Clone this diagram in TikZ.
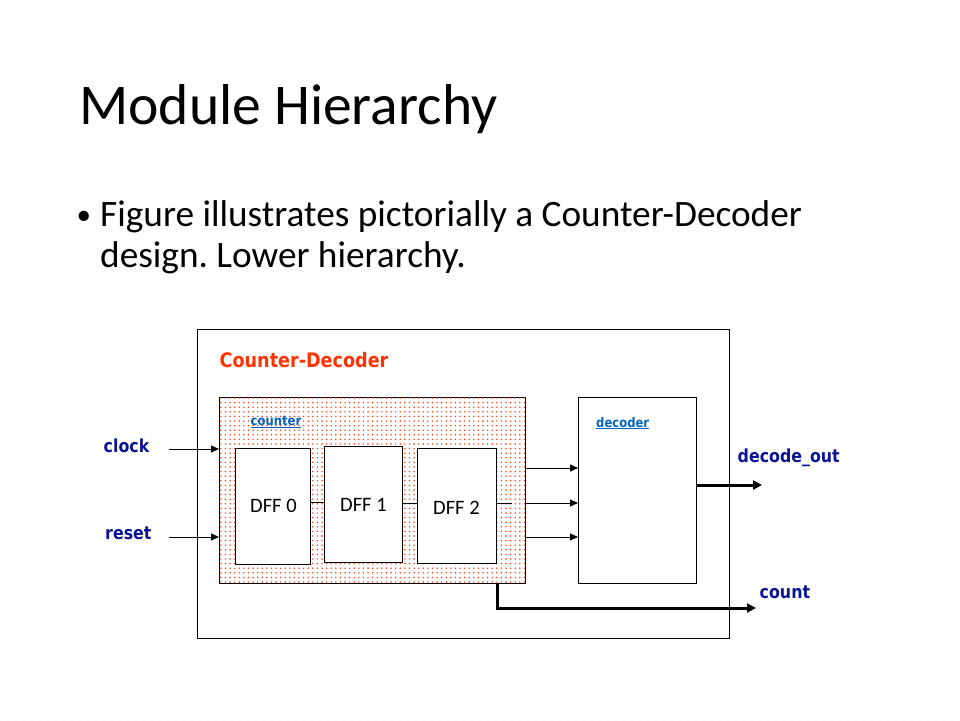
\documentclass[tikz,border=0pt]{standalone}
\usepackage{fontspec}
\setmainfont{Carlito}
\newfontfamily\tahomafont{DejaVu Sans}[FakeStretch=0.88]
\usetikzlibrary{arrows.meta,patterns.meta}
\frenchspacing
\definecolor{navy}{RGB}{12,20,150}
\definecolor{hot}{RGB}{255,51,0}
\definecolor{link}{RGB}{5,99,193}
\definecolor{paper}{RGB}{255,255,253}
\definecolor{speck}{RGB}{222,238,212}

\begin{document}
\begin{tikzpicture}[x=1pt,y=-1pt,
  box/.style={draw=black,line width=1.3pt,fill=white,inner sep=0pt,anchor=north west},
  hatched/.style={box,postaction={pattern={Dots[radius=0.8pt,distance=4.6pt]},pattern color=hot}},
  wire/.style={draw=black,line width=1pt},
  sig/.style={wire,-{Triangle[length=8pt,width=7pt]}},
  bus/.style={draw=black,line width=3pt,-{Triangle[length=9pt,width=9pt]}},
  port/.style={anchor=base west,inner sep=0pt,text=navy,
    font=\tahomafont\bfseries\fontsize{18}{20}\selectfont},
  inst/.style={anchor=base west,inner sep=0pt,text=link,
    font=\tahomafont\bfseries\fontsize{13.2}{15}\selectfont},
  cell/.style={anchor=base west,inner sep=0pt,font=\fontsize{20.5}{24}\selectfont},
  body/.style={anchor=base west,inner sep=0pt,font=\fontsize{37.3}{44}\selectfont}]

% slide background
\fill[paper] (0,0) rectangle (960,720);
\fill[pattern={Dots[radius=0.7pt,distance=8pt]},pattern color=speck] (0,0) rectangle (960,720);
\useasboundingbox (0,0) rectangle (960,720);

% heading and bullet
\node[anchor=base west,inner sep=0pt,font=\fontsize{57.6}{70}\selectfont] (title) at (79,124) {Module Hierarchy};
\node[anchor=base west,inner sep=0pt,font=\fontsize{29}{32}\selectfont] (dot) at (76.5,224) {•};
\node[body] (line1) at (100,226) {Figure illustrates pictorially a Counter-Decoder};
\node[body] (line2) at (100,267) {design. Lower hierarchy.};

% blocks
\node[box,minimum width=532,minimum height=309] (top) at (197,329) {};
\node[hatched,minimum width=306,minimum height=186] (ctr) at (219,397) {};
\node[box,minimum width=118,minimum height=186] (dec) at (578,397) {};
\node[box,minimum width=75,minimum height=116] (dff0) at (235,448) {};
\node[box,minimum width=78,minimum height=116] (dff1) at (324,446) {};
\node[box,minimum width=79,minimum height=115] (dff2) at (417,448) {};

% block labels
\node[anchor=base west,inner sep=0pt,text=hot,font=\tahomafont\bfseries\fontsize{20}{23}\selectfont] (tname) at (219.5,367) {Counter-Decoder};
\node[inst] (cname) at (250.5,425.5) {\underline{counter}};
\node[inst] (dname) at (596,427) {\underline{decoder}};
\node[cell] (l0) at (250,512) {DFF 0};
\node[cell] (l1) at (340,511.5) {DFF 1};
\node[cell] (l2) at (433,514) {DFF 2};

% ports
\node[port] (pclk) at (103.5,452.5) {clock};
\node[port] (prst) at (105,539) {reset};
\node[port] (pdout) at (737.5,462.5) {decode\_out};
\node[port] (pcnt) at (759.5,598) {count};

% inputs into the counter
\coordinate (clkin) at (169,449);
\coordinate (rstin) at (169,537);
\draw[sig] (clkin) -- (clkin -| ctr.west);
\draw[sig] (rstin) -- (rstin -| ctr.west);

% flip-flop chain
\coordinate (q0) at (0,502);
\coordinate (q1) at (0,503);
\coordinate (q2) at (512,503);
\draw[wire] (dff0.east |- q0) -- (dff1.west |- q0);
\draw[wire] (dff1.east |- q1) -- (dff2.west |- q1);
\draw[wire] (dff2.east |- q2) -- (q2);

% counter bits into the decoder
\foreach \yy/\nm in {468/ba,503/bb,537/bc}{
  \coordinate (\nm) at (0,\yy);
  \draw[sig] (ctr.east |- \nm) -- (dec.west |- \nm);
}

% outputs
\coordinate (dout) at (762,485);
\draw[bus] (dec.east |- dout) -- (dout);
\coordinate (tap) at (497,0);
\coordinate (cnt) at (756,608);
\draw[bus] (ctr.south -| tap) |- (cnt);
\end{tikzpicture}
\end{document}
